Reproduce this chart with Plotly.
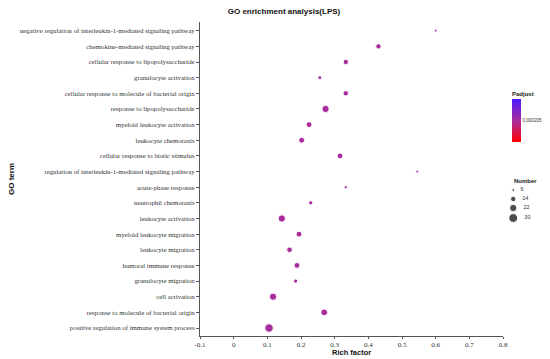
import numpy as np
import plotly.graph_objects as go

terms = [
    "negative regulation of interleukin-1-mediated signaling pathway",
    "chemokine-mediated signaling pathway",
    "cellular response to lipopolysaccharide",
    "granulocyte activation",
    "cellular response to molecule of bacterial origin",
    "response to lipopolysaccharide",
    "myeloid leukocyte activation",
    "leukocyte chemotaxis",
    "cellular response to biotic stimulus",
    "regulation of interleukin-1-mediated signaling pathway",
    "acute-phase response",
    "neutrophil chemotaxis",
    "leukocyte activation",
    "myeloid leukocyte migration",
    "leukocyte migration",
    "humoral immune response",
    "granulocyte migration",
    "cell activation",
    "response to molecule of bacterial origin",
    "positive regulation of immune system process",
]
rich_factor = [0.600, 0.430, 0.333, 0.256, 0.333, 0.273, 0.224, 0.202, 0.316, 0.545,
               0.333, 0.229, 0.143, 0.194, 0.166, 0.188, 0.184, 0.117, 0.269, 0.105]
number = [6, 14, 14, 9, 14, 22, 16, 16, 16, 6,
          7, 10, 22, 16, 15, 16, 10, 22, 20, 28]
padjust = [0.000205] * len(terms)

x_ticks = [-0.1, 0, 0.1, 0.2, 0.3, 0.4, 0.5, 0.6, 0.7, 0.8]
x_ticklabels = ["-0.1", "0", "0.1", "0.2", "0.3", "0.4", "0.5", "0.6", "0.7", "0.8"]
size_breaks = [6, 14, 22, 30]
padj_ticks = [0.000205]
padj_ticklabels = ["0.000205"]


def diam(n):
    n = np.asarray(n, dtype=float)
    return 2.8 + 2.0 * (np.sqrt(n) - np.sqrt(6))


# The page body has an 8px margin, so the figure is drawn 8px in from the corner.
OFF = 8
W, H = 550 - OFF, 359 - OFF
ML, MR, MT = 200 - OFF, 0, 22 - OFF
plot_bottom = 336 - OFF
MB = H - plot_bottom
plot_right = 503 - OFF
pw = W - ML - MR
ph = H - MT - MB

colorscale = [[0.0, "#FF0000"], [0.5, "#A82C9E"], [1.0, "#4A1BFF"]]

fig = go.Figure()
fig.add_trace(go.Scatter(
    x=rich_factor, y=terms, mode="markers",
    marker=dict(size=diam(number), color=padjust, colorscale=colorscale,
                cmin=0.000100, cmax=0.000310, showscale=True, opacity=1,
                colorbar=dict(
                    title=dict(text="<b>Padjust</b>", side="top",
                               font=dict(family="Liberation Sans", size=6, color="#222")),
                    x=(512 - OFF - ML) / pw, xanchor="left",
                    y=(plot_bottom - (142 - OFF)) / ph, yanchor="bottom",
                    thickness=9, thicknessmode="pixels",
                    len=54, lenmode="pixels",
                    outlinewidth=0, xpad=0, ypad=0,
                    tickvals=padj_ticks, ticktext=padj_ticklabels,
                    ticks="", ticklen=0,
                    tickfont=dict(family="Liberation Sans", size=4.6, color="#333"),
                )),
    showlegend=False, hoverinfo="skip",
))

# Size legend ("Number") drawn on an auxiliary axis in the right margin
leg_y = [190 - OFF, 199 - OFF, 208 - OFF, 218 - OFF]
fig.add_trace(go.Scatter(
    x=[0] * len(size_breaks), y=leg_y, mode="markers+text",
    text=[f"   {b}" for b in size_breaks], textposition="middle right",
    textfont=dict(family="Liberation Sans", size=5.5, color="#333"),
    marker=dict(size=diam(size_breaks), color="#000"),
    xaxis="x2", yaxis="y2", showlegend=False, hoverinfo="skip", cliponaxis=False,
))

fig.update_layout(
    width=W, height=H,
    margin=dict(l=ML, r=MR, t=MT, b=MB, autoexpand=False),
    paper_bgcolor="white", plot_bgcolor="white",
    title=dict(text="<b>GO enrichment analysis(LPS)</b>", x=(284 - OFF) / W, xanchor="center",
               y=1 - (11 - OFF) / H, yanchor="middle",
               font=dict(family="Liberation Sans", size=8, color="#111")),
    xaxis=dict(domain=[0, (plot_right - ML) / pw], range=[-0.1, 0.8],
               tickvals=x_ticks, ticktext=x_ticklabels,
               showgrid=False, zeroline=False, showline=True, linecolor="#555", linewidth=1,
               ticks="outside", ticklen=2, tickcolor="#555", automargin=False,
               tickfont=dict(family="Liberation Serif", size=7, color="#333"),
               title=dict(text="")),
    yaxis=dict(type="category", categoryorder="array", categoryarray=terms[::-1],
               range=[-0.51, len(terms) - 1 + 0.556], automargin=False,
               showgrid=False, zeroline=False, showline=True, linecolor="#555", linewidth=1,
               ticks="outside", ticklen=3, tickcolor="#555",
               tickfont=dict(family="Liberation Serif", size=6.8, color="#333"),
               title=dict(text="")),
    xaxis2=dict(domain=[(508 - OFF - ML) / pw, 1], range=[-1, 7], visible=False, fixedrange=True),
    yaxis2=dict(domain=[0, 1], range=[plot_bottom, MT], visible=False, anchor="x2", fixedrange=True),
    annotations=[
        dict(text="<b>GO term</b>", xref="paper", yref="paper", x=-(ML - (11 - OFF)) / pw,
             y=0.5, textangle=-90, showarrow=False, xanchor="center", yanchor="middle",
             font=dict(family="Liberation Sans", size=8, color="#111")),
        dict(text="<b>Rich factor</b>", xref="paper", yref="paper",
             x=((ML + plot_right) / 2 - ML) / pw, y=-((352.5 - OFF) - plot_bottom) / ph,
             showarrow=False, xanchor="center", yanchor="middle",
             font=dict(family="Liberation Sans", size=7.5, color="#111")),
        dict(text="<b>Number</b>", x=-0.3, y=181 - OFF, xref="x2", yref="y2", showarrow=False,
             xanchor="left", yanchor="middle",
             font=dict(family="Liberation Sans", size=6, color="#222")),
    ],
)

fig.write_html("out.html")
